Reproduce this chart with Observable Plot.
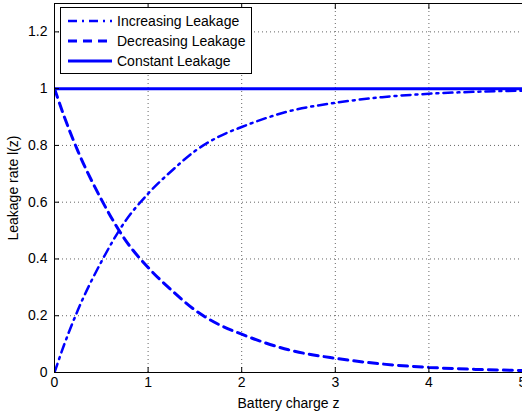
<!DOCTYPE html>
<html><head><meta charset="utf-8">
<script src="https://cdn.jsdelivr.net/npm/d3@7"></script>
<script src="https://cdn.jsdelivr.net/npm/@observablehq/plot@0.6"></script>
<style>
body{margin:0;background:#fff}
#wrap{position:relative;width:522px;height:413px;font-family:"Liberation Sans",Arial,sans-serif;overflow:hidden}
.legend{position:absolute;left:60px;top:7px;width:192px;height:67px;border:1px solid #000;background:#fff;box-sizing:border-box}
.row{position:absolute;left:0;height:20px;display:flex;align-items:center;font-size:14px;color:#000}
.row svg{margin-left:7px;margin-right:5px}
</style></head><body><div id="wrap"></div><script>
const z   = [0, 0.1, 0.25, 0.5, 0.75, 1, 1.25, 1.5, 1.75, 2, 2.5, 3, 3.5, 4, 4.5, 5];
const inc = [0, 0.095, 0.22, 0.39, 0.53, 0.63, 0.71, 0.78, 0.83, 0.865, 0.92, 0.95, 0.97, 0.982, 0.989, 0.993];
const dec = [1, 0.905, 0.78, 0.61, 0.47, 0.37, 0.29, 0.22, 0.17, 0.135, 0.08, 0.05, 0.03, 0.018, 0.011, 0.007];
const cst = [1, 1, 1, 1, 1, 1, 1, 1, 1, 1, 1, 1, 1, 1, 1, 1];
const seriesNames = ["Increasing Leakage", "Decreasing Leakage", "Constant Leakage"];
const xTicks = [0, 1, 2, 3, 4, 5];
const yTicks = [0, 0.2, 0.4, 0.6, 0.8, 1, 1.2];
const xGrid = [1, 2, 3, 4];
const yGrid = [0.2, 0.4, 0.6, 0.8, 1, 1.2];

const mk = (vals) => z.map((x, i) => ({z: x, v: vals[i]}));
const dashes = ["9,5,2,5", "9,6", null];
const blue = "#0000ff";

const plot = Plot.plot({
  width: 522, height: 413,
  marginLeft: 54, marginRight: 0, marginTop: 3, marginBottom: 41,
  style: {fontFamily: '"Liberation Sans", Arial, sans-serif', fontSize: "14px", background: "#fff", color: "#000"},
  x: {domain: [0, 5]},
  y: {domain: [0, 1.3]},
  marks: [
    Plot.gridX(xGrid, {stroke: "#666", strokeOpacity: 1, strokeDasharray: "1,3"}),
    Plot.gridY(yGrid, {stroke: "#666", strokeOpacity: 1, strokeDasharray: "1,3"}),
    Plot.line(mk(dec), {x: "z", y: "v", stroke: blue, strokeWidth: 3, strokeDasharray: dashes[1], curve: "monotone-x", clip: true}),
    Plot.line(mk(inc), {x: "z", y: "v", stroke: blue, strokeWidth: 2.5, strokeDasharray: dashes[0], curve: "monotone-x", clip: true}),
    Plot.line(mk(cst), {x: "z", y: "v", stroke: blue, strokeWidth: 3, clip: true}),
    Plot.frame({stroke: "#000", strokeWidth: 1}),
    Plot.axisX({ticks: xTicks, tickSize: -5, tickPadding: 10, tickFormat: d => String(d),
      label: "Battery charge z", labelAnchor: "center", labelArrow: "none", labelOffset: 35}),
    Plot.axisX({anchor: "top", ticks: xTicks, tickSize: -5, tickFormat: () => "", label: null}),
    Plot.axisY({ticks: yTicks, tickSize: -5, tickPadding: 12, tickFormat: d => String(d),
      label: "Leakage rate l(z)", labelAnchor: "center", labelArrow: "none", labelOffset: 46})
  ]
});

const wrap = document.getElementById("wrap");
wrap.appendChild(plot);

const legend = document.createElement("div");
legend.className = "legend";
seriesNames.forEach((name, i) => {
  const row = document.createElement("div");
  row.className = "row";
  row.style.top = (3 + i * 20) + "px";
  const da = dashes[i] ? `stroke-dasharray="${dashes[i]}"` : "";
  const sw = i === 0 ? 2.5 : 3;
  row.innerHTML = `<svg width="44" height="10"><line x1="0" y1="5" x2="44" y2="5" stroke="${blue}" stroke-width="${sw}" ${da}/></svg><span>${name}</span>`;
  legend.appendChild(row);
});
wrap.appendChild(legend);
</script></body></html>
